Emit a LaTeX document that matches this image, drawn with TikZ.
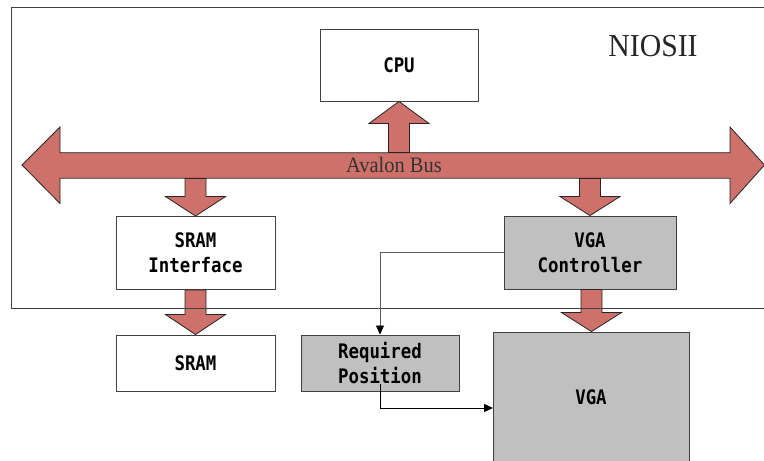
\documentclass[tikz,border=0pt]{standalone}
\usepackage{fontspec}
\usetikzlibrary{arrows.meta,calc}
\newfontfamily\boxfont[FakeStretch=0.87]{DejaVu Sans Mono}
\newfontfamily\labelfont[FakeStretch=0.93]{Liberation Serif}

\definecolor{busred}{RGB}{205,113,106}
\definecolor{boxgray}{RGB}{192,192,192}
\definecolor{edgegray}{RGB}{64,64,64}

% fat block arrow: #1 start (base of shaft), #2 tip, #3 signed head length (canvas pt)
\newcommand\fatarrow[3]{%
  \draw[fatarr] let \p1=(#1), \p2=(#2) in
    (\x2-10.5pt,\y1) -- (\x2-10.5pt,\y2+#3) -- (\x2-30pt,\y2+#3) -- (\x2,\y2)
    -- (\x2+30pt,\y2+#3) -- (\x2+10.5pt,\y2+#3) -- (\x2+10.5pt,\y1) -- cycle;}

\tikzset{
  fatarr/.style={fill=busred, draw=black!85, line width=0.8pt, line join=miter},
  boxtext/.style={font=\boxfont\bfseries\fontsize{20}{25}\selectfont},
  block/.style={draw=edgegray, line width=0.9pt, fill=white, align=center,
    boxtext, inner sep=0pt},
  grayblock/.style={block, fill=boxgray},
  conn/.style={line width=0.8pt, -{Triangle[length=9pt,width=8pt,color=black]}},
}

\begin{document}
\begin{tikzpicture}[x=1pt, y=-1pt]
\useasboundingbox (0,0) rectangle (764,461);

% blocks
\node[block, minimum width=158, minimum height=72] (cpu) at (399,65) {CPU};
\node[block, minimum width=159, minimum height=73] (sramif) at (195.5,253) {SRAM\\Interface};
\node[grayblock, minimum width=172, minimum height=73] (vgac) at (590,252.5) {VGA\\Controller};
\node[block, minimum width=159, minimum height=56] (sram) at (195.5,363) {SRAM};
\node[grayblock, minimum width=158, minimum height=56] (rp) at (380,363) {Required\\Position};
\node[grayblock, minimum width=196, minimum height=134] (vga) at (591.5,399) {};
\node[boxtext] (vgalabel) at (591,397) {VGA};

% Avalon bus body (invisible anchor node) and its outline
\node[minimum width=670, minimum height=25.5, inner sep=0pt] (bus) at (395,165.5) {};
\draw[fatarr] (22,165) -- (60,127) -- (60,152.7) -- (730,152.7) -- (730,127)
  -- (764.5,165) -- (730,203.5) -- (730,178.2) -- (60,178.2) -- (60,203.5) -- cycle;
\node[font=\labelfont\fontsize{22}{22}\selectfont, text=black!80] (buslabel) at (394,165) {Avalon Bus};

% block arrows between bus and modules
\fatarrow{bus.north -| cpu.south}{cpu.south}{-22pt}
\fatarrow{bus.south -| sramif.north}{sramif.north}{19.5pt}
\fatarrow{bus.south -| vgac.north}{vgac.north}{19pt}
\fatarrow{sramif.south}{sram.north}{20pt}
\fatarrow{vgac.south}{vga.north}{19pt}

% NIOSII system boundary
\draw[black!75, line width=0.9pt] (775,7) -- (11,7) -- (11,308) -- (775,308);
\node[font=\labelfont\fontsize{32}{32}\selectfont, text=black!85] (nios) at (653,46) {NIOSII};

% control connectors
\draw[conn, draw=black!65] (vgac.west) -| (rp.north);
\draw[conn, draw=black] ([yshift=7pt]rp.south) |- ([yshift=-9pt]vga.west);
\end{tikzpicture}
\end{document}
